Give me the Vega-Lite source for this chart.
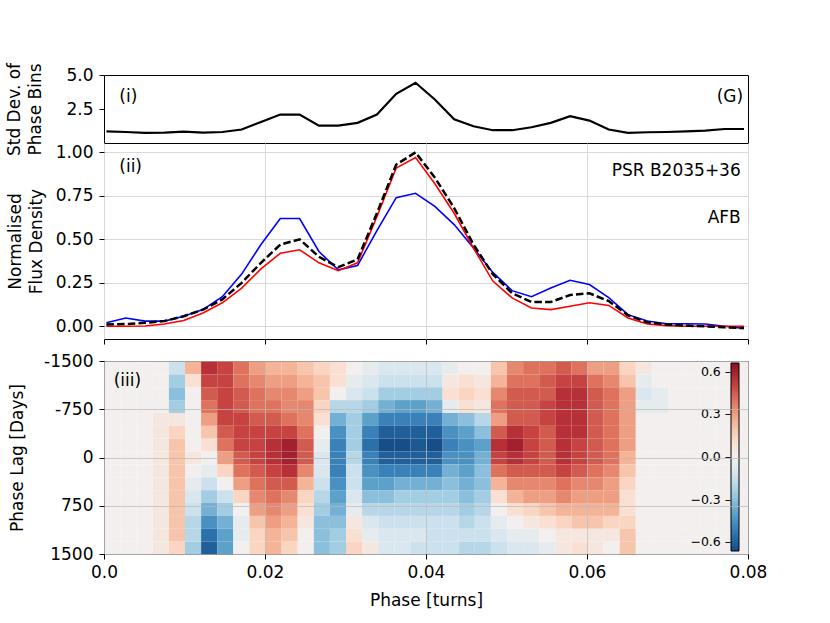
{
  "$schema": "https://vega.github.io/schema/vega-lite/v6.json",
  "background": "white",
  "padding": {"left": 5, "top": 61, "right": 5, "bottom": 5},
  "spacing": 6,
  "resolve": {"scale": {"color": "independent"}, "legend": {"color": "independent"}},
  "config": {
    "font": "DejaVu Sans",
    "view": {"stroke": "black", "strokeWidth": 1},
    "axis": {
      "labelFont": "DejaVu Sans", "titleFont": "DejaVu Sans",
      "labelFontSize": 17, "titleFontSize": 17, "titleFontWeight": "normal",
      "labelColor": "black", "titleColor": "black", "tickColor": "black",
      "domain": false, "tickSize": 5, "labelPadding": 6, "labelFlush": false, "labelOverlap": false,
      "gridColor": "#d9d9d9", "gridWidth": 1
    },
    "legend": {"labelFont": "DejaVu Sans", "labelColor": "black"}
  },
  "datasets": {
    "stdev": [
      {"p": 0.0003, "sd": 0.86}, {"p": 0.0027, "sd": 0.81}, {"p": 0.0051, "sd": 0.74}, {"p": 0.0075, "sd": 0.76},
      {"p": 0.0099, "sd": 0.84}, {"p": 0.0123, "sd": 0.76}, {"p": 0.0147, "sd": 0.81}, {"p": 0.0171, "sd": 0.99},
      {"p": 0.0195, "sd": 1.55}, {"p": 0.0219, "sd": 2.09}, {"p": 0.0243, "sd": 2.09}, {"p": 0.0267, "sd": 1.28},
      {"p": 0.0291, "sd": 1.28}, {"p": 0.0315, "sd": 1.48}, {"p": 0.0339, "sd": 2.09}, {"p": 0.0363, "sd": 3.62},
      {"p": 0.0387, "sd": 4.43}, {"p": 0.0411, "sd": 3.2}, {"p": 0.0435, "sd": 1.75}, {"p": 0.0459, "sd": 1.23},
      {"p": 0.0483, "sd": 0.94}, {"p": 0.0507, "sd": 0.94}, {"p": 0.0531, "sd": 1.16}, {"p": 0.0555, "sd": 1.48},
      {"p": 0.0579, "sd": 1.97}, {"p": 0.0603, "sd": 1.65}, {"p": 0.0627, "sd": 0.99}, {"p": 0.0651, "sd": 0.74},
      {"p": 0.0675, "sd": 0.79}, {"p": 0.0699, "sd": 0.81}, {"p": 0.0723, "sd": 0.86}, {"p": 0.0747, "sd": 0.91},
      {"p": 0.0771, "sd": 1.03}, {"p": 0.0795, "sd": 1.03}
    ],
    "flux": [
      {"p": 0.0003, "s": "blue", "v": 0.02}, {"p": 0.0027, "s": "blue", "v": 0.048}, {"p": 0.0051, "s": "blue", "v": 0.03},
      {"p": 0.0075, "s": "blue", "v": 0.03}, {"p": 0.0099, "s": "blue", "v": 0.058}, {"p": 0.0123, "s": "blue", "v": 0.096},
      {"p": 0.0147, "s": "blue", "v": 0.17}, {"p": 0.0171, "s": "blue", "v": 0.3}, {"p": 0.0195, "s": "blue", "v": 0.47},
      {"p": 0.0219, "s": "blue", "v": 0.62}, {"p": 0.0243, "s": "blue", "v": 0.62}, {"p": 0.0267, "s": "blue", "v": 0.43},
      {"p": 0.0291, "s": "blue", "v": 0.325}, {"p": 0.0315, "s": "blue", "v": 0.35}, {"p": 0.0339, "s": "blue", "v": 0.55},
      {"p": 0.0363, "s": "blue", "v": 0.74}, {"p": 0.0387, "s": "blue", "v": 0.765}, {"p": 0.0411, "s": "blue", "v": 0.69},
      {"p": 0.0435, "s": "blue", "v": 0.585}, {"p": 0.0459, "s": "blue", "v": 0.45}, {"p": 0.0483, "s": "blue", "v": 0.31},
      {"p": 0.0507, "s": "blue", "v": 0.205}, {"p": 0.0531, "s": "blue", "v": 0.17}, {"p": 0.0555, "s": "blue", "v": 0.22},
      {"p": 0.0579, "s": "blue", "v": 0.265}, {"p": 0.0603, "s": "blue", "v": 0.24}, {"p": 0.0627, "s": "blue", "v": 0.165},
      {"p": 0.0651, "s": "blue", "v": 0.067}, {"p": 0.0675, "s": "blue", "v": 0.03}, {"p": 0.0699, "s": "blue", "v": 0.015},
      {"p": 0.0723, "s": "blue", "v": 0.015}, {"p": 0.0747, "s": "blue", "v": 0.013}, {"p": 0.0771, "s": "blue", "v": 0.0},
      {"p": 0.0795, "s": "blue", "v": -0.013},
      {"p": 0.0003, "s": "red", "v": 0.0}, {"p": 0.0027, "s": "red", "v": 0.0}, {"p": 0.0051, "s": "red", "v": 0.002},
      {"p": 0.0075, "s": "red", "v": 0.013}, {"p": 0.0099, "s": "red", "v": 0.033}, {"p": 0.0123, "s": "red", "v": 0.077},
      {"p": 0.0147, "s": "red", "v": 0.135}, {"p": 0.0171, "s": "red", "v": 0.22}, {"p": 0.0195, "s": "red", "v": 0.33},
      {"p": 0.0219, "s": "red", "v": 0.42}, {"p": 0.0243, "s": "red", "v": 0.44}, {"p": 0.0267, "s": "red", "v": 0.365},
      {"p": 0.0291, "s": "red", "v": 0.32}, {"p": 0.0315, "s": "red", "v": 0.365}, {"p": 0.0339, "s": "red", "v": 0.63},
      {"p": 0.0363, "s": "red", "v": 0.91}, {"p": 0.0387, "s": "red", "v": 0.97}, {"p": 0.0411, "s": "red", "v": 0.82},
      {"p": 0.0435, "s": "red", "v": 0.65}, {"p": 0.0459, "s": "red", "v": 0.45}, {"p": 0.0483, "s": "red", "v": 0.26},
      {"p": 0.0507, "s": "red", "v": 0.163}, {"p": 0.0531, "s": "red", "v": 0.105}, {"p": 0.0555, "s": "red", "v": 0.096},
      {"p": 0.0579, "s": "red", "v": 0.115}, {"p": 0.0603, "s": "red", "v": 0.135}, {"p": 0.0627, "s": "red", "v": 0.12},
      {"p": 0.0651, "s": "red", "v": 0.048}, {"p": 0.0675, "s": "red", "v": 0.013}, {"p": 0.0699, "s": "red", "v": 0.004},
      {"p": 0.0723, "s": "red", "v": 0.0}, {"p": 0.0747, "s": "red", "v": 0.0}, {"p": 0.0771, "s": "red", "v": 0.0},
      {"p": 0.0795, "s": "red", "v": 0.0},
      {"p": 0.0003, "s": "mean", "v": 0.01}, {"p": 0.0027, "s": "mean", "v": 0.013}, {"p": 0.0051, "s": "mean", "v": 0.02},
      {"p": 0.0075, "s": "mean", "v": 0.03}, {"p": 0.0099, "s": "mean", "v": 0.058}, {"p": 0.0123, "s": "mean", "v": 0.096},
      {"p": 0.0147, "s": "mean", "v": 0.155}, {"p": 0.0171, "s": "mean", "v": 0.25}, {"p": 0.0195, "s": "mean", "v": 0.365},
      {"p": 0.0219, "s": "mean", "v": 0.47}, {"p": 0.0243, "s": "mean", "v": 0.5}, {"p": 0.0267, "s": "mean", "v": 0.4},
      {"p": 0.0291, "s": "mean", "v": 0.34}, {"p": 0.0315, "s": "mean", "v": 0.385}, {"p": 0.0339, "s": "mean", "v": 0.65},
      {"p": 0.0363, "s": "mean", "v": 0.93}, {"p": 0.0387, "s": "mean", "v": 1.0}, {"p": 0.0411, "s": "mean", "v": 0.855},
      {"p": 0.0435, "s": "mean", "v": 0.68}, {"p": 0.0459, "s": "mean", "v": 0.47}, {"p": 0.0483, "s": "mean", "v": 0.3},
      {"p": 0.0507, "s": "mean", "v": 0.19}, {"p": 0.0531, "s": "mean", "v": 0.14}, {"p": 0.0555, "s": "mean", "v": 0.14},
      {"p": 0.0579, "s": "mean", "v": 0.18}, {"p": 0.0603, "s": "mean", "v": 0.19}, {"p": 0.0627, "s": "mean", "v": 0.145},
      {"p": 0.0651, "s": "mean", "v": 0.063}, {"p": 0.0675, "s": "mean", "v": 0.023}, {"p": 0.0699, "s": "mean", "v": 0.01},
      {"p": 0.0723, "s": "mean", "v": 0.004}, {"p": 0.0747, "s": "mean", "v": 0.0}, {"p": 0.0771, "s": "mean", "v": -0.006},
      {"p": 0.0795, "s": "mean", "v": -0.01}
    ],
    "heat": [
      {"p":0.001,"l":-1400,"c":0},{"p":0.003,"l":-1400,"c":0},{"p":0.005,"l":-1400,"c":0},{"p":0.007,"l":-1400,"c":0},{"p":0.009,"l":-1400,"c":-0.15},{"p":0.011,"l":-1400,"c":0.25},{"p":0.013,"l":-1400,"c":0.55},{"p":0.015,"l":-1400,"c":0.5},{"p":0.017,"l":-1400,"c":0.4},{"p":0.019,"l":-1400,"c":0.3},{"p":0.021,"l":-1400,"c":0.25},{"p":0.023,"l":-1400,"c":0.25},{"p":0.025,"l":-1400,"c":0.2},{"p":0.027,"l":-1400,"c":0.15},{"p":0.029,"l":-1400,"c":0.1},{"p":0.031,"l":-1400,"c":0},{"p":0.033,"l":-1400,"c":-0.05},{"p":0.035,"l":-1400,"c":-0.1},{"p":0.037,"l":-1400,"c":-0.1},{"p":0.039,"l":-1400,"c":-0.1},
      {"p":0.041,"l":-1400,"c":-0.1},{"p":0.043,"l":-1400,"c":-0.05},{"p":0.045,"l":-1400,"c":0},{"p":0.047,"l":-1400,"c":0},{"p":0.049,"l":-1400,"c":0.2},{"p":0.051,"l":-1400,"c":0.35},{"p":0.053,"l":-1400,"c":0.4},{"p":0.055,"l":-1400,"c":0.4},{"p":0.057,"l":-1400,"c":0.45},{"p":0.059,"l":-1400,"c":0.4},{"p":0.061,"l":-1400,"c":0.3},{"p":0.063,"l":-1400,"c":0.3},{"p":0.065,"l":-1400,"c":0.15},{"p":0.067,"l":-1400,"c":0.05},{"p":0.069,"l":-1400,"c":0},{"p":0.071,"l":-1400,"c":0},{"p":0.073,"l":-1400,"c":0},{"p":0.075,"l":-1400,"c":0},{"p":0.077,"l":-1400,"c":0},{"p":0.079,"l":-1400,"c":0},
      {"p":0.001,"l":-1200,"c":0},{"p":0.003,"l":-1200,"c":0},{"p":0.005,"l":-1200,"c":0},{"p":0.007,"l":-1200,"c":0},{"p":0.009,"l":-1200,"c":-0.25},{"p":0.011,"l":-1200,"c":0.1},{"p":0.013,"l":-1200,"c":0.5},{"p":0.015,"l":-1200,"c":0.5},{"p":0.017,"l":-1200,"c":0.4},{"p":0.019,"l":-1200,"c":0.35},{"p":0.021,"l":-1200,"c":0.3},{"p":0.023,"l":-1200,"c":0.3},{"p":0.025,"l":-1200,"c":0.25},{"p":0.027,"l":-1200,"c":0.2},{"p":0.029,"l":-1200,"c":0.1},{"p":0.031,"l":-1200,"c":-0.05},{"p":0.033,"l":-1200,"c":-0.1},{"p":0.035,"l":-1200,"c":-0.15},{"p":0.037,"l":-1200,"c":-0.15},{"p":0.039,"l":-1200,"c":-0.15},
      {"p":0.041,"l":-1200,"c":-0.15},{"p":0.043,"l":-1200,"c":0.05},{"p":0.045,"l":-1200,"c":0.1},{"p":0.047,"l":-1200,"c":0.05},{"p":0.049,"l":-1200,"c":0.25},{"p":0.051,"l":-1200,"c":0.4},{"p":0.053,"l":-1200,"c":0.4},{"p":0.055,"l":-1200,"c":0.45},{"p":0.057,"l":-1200,"c":0.5},{"p":0.059,"l":-1200,"c":0.5},{"p":0.061,"l":-1200,"c":0.4},{"p":0.063,"l":-1200,"c":0.35},{"p":0.065,"l":-1200,"c":0.2},{"p":0.067,"l":-1200,"c":-0.05},{"p":0.069,"l":-1200,"c":0},{"p":0.071,"l":-1200,"c":0},{"p":0.073,"l":-1200,"c":0},{"p":0.075,"l":-1200,"c":0},{"p":0.077,"l":-1200,"c":0},{"p":0.079,"l":-1200,"c":0},
      {"p":0.001,"l":-1000,"c":0},{"p":0.003,"l":-1000,"c":0},{"p":0.005,"l":-1000,"c":0},{"p":0.007,"l":-1000,"c":0},{"p":0.009,"l":-1000,"c":-0.3},{"p":0.011,"l":-1000,"c":0},{"p":0.013,"l":-1000,"c":0.45},{"p":0.015,"l":-1000,"c":0.5},{"p":0.017,"l":-1000,"c":0.45},{"p":0.019,"l":-1000,"c":0.4},{"p":0.021,"l":-1000,"c":0.35},{"p":0.023,"l":-1000,"c":0.35},{"p":0.025,"l":-1000,"c":0.3},{"p":0.027,"l":-1000,"c":0.2},{"p":0.029,"l":-1000,"c":0},{"p":0.031,"l":-1000,"c":-0.1},{"p":0.033,"l":-1000,"c":-0.15},{"p":0.035,"l":-1000,"c":-0.25},{"p":0.037,"l":-1000,"c":-0.25},{"p":0.039,"l":-1000,"c":-0.25},
      {"p":0.041,"l":-1000,"c":-0.25},{"p":0.043,"l":-1000,"c":0.1},{"p":0.045,"l":-1000,"c":0.15},{"p":0.047,"l":-1000,"c":0.1},{"p":0.049,"l":-1000,"c":0.35},{"p":0.051,"l":-1000,"c":0.45},{"p":0.053,"l":-1000,"c":0.45},{"p":0.055,"l":-1000,"c":0.45},{"p":0.057,"l":-1000,"c":0.55},{"p":0.059,"l":-1000,"c":0.55},{"p":0.061,"l":-1000,"c":0.45},{"p":0.063,"l":-1000,"c":0.4},{"p":0.065,"l":-1000,"c":0.3},{"p":0.067,"l":-1000,"c":-0.1},{"p":0.069,"l":-1000,"c":-0.05},{"p":0.071,"l":-1000,"c":0},{"p":0.073,"l":-1000,"c":0},{"p":0.075,"l":-1000,"c":0},{"p":0.077,"l":-1000,"c":0},{"p":0.079,"l":-1000,"c":0},
      {"p":0.001,"l":-800,"c":0},{"p":0.003,"l":-800,"c":0},{"p":0.005,"l":-800,"c":0},{"p":0.007,"l":-800,"c":0},{"p":0.009,"l":-800,"c":-0.25},{"p":0.011,"l":-800,"c":0},{"p":0.013,"l":-800,"c":0.4},{"p":0.015,"l":-800,"c":0.5},{"p":0.017,"l":-800,"c":0.45},{"p":0.019,"l":-800,"c":0.4},{"p":0.021,"l":-800,"c":0.4},{"p":0.023,"l":-800,"c":0.35},{"p":0.025,"l":-800,"c":0.35},{"p":0.027,"l":-800,"c":0.15},{"p":0.029,"l":-800,"c":-0.2},{"p":0.031,"l":-800,"c":-0.2},{"p":0.033,"l":-800,"c":-0.25},{"p":0.035,"l":-800,"c":-0.35},{"p":0.037,"l":-800,"c":-0.4},{"p":0.039,"l":-800,"c":-0.4},
      {"p":0.041,"l":-800,"c":-0.35},{"p":0.043,"l":-800,"c":-0.05},{"p":0.045,"l":-800,"c":0.1},{"p":0.047,"l":-800,"c":0.05},{"p":0.049,"l":-800,"c":0.4},{"p":0.051,"l":-800,"c":0.45},{"p":0.053,"l":-800,"c":0.45},{"p":0.055,"l":-800,"c":0.5},{"p":0.057,"l":-800,"c":0.55},{"p":0.059,"l":-800,"c":0.55},{"p":0.061,"l":-800,"c":0.45},{"p":0.063,"l":-800,"c":0.4},{"p":0.065,"l":-800,"c":0.3},{"p":0.067,"l":-800,"c":-0.05},{"p":0.069,"l":-800,"c":-0.05},{"p":0.071,"l":-800,"c":0},{"p":0.073,"l":-800,"c":0},{"p":0.075,"l":-800,"c":0},{"p":0.077,"l":-800,"c":0},{"p":0.079,"l":-800,"c":0},
      {"p":0.001,"l":-600,"c":0},{"p":0.003,"l":-600,"c":0},{"p":0.005,"l":-600,"c":0},{"p":0.007,"l":-600,"c":0.05},{"p":0.009,"l":-600,"c":0.05},{"p":0.011,"l":-600,"c":0},{"p":0.013,"l":-600,"c":0.3},{"p":0.015,"l":-600,"c":0.5},{"p":0.017,"l":-600,"c":0.5},{"p":0.019,"l":-600,"c":0.45},{"p":0.021,"l":-600,"c":0.45},{"p":0.023,"l":-600,"c":0.4},{"p":0.025,"l":-600,"c":0.35},{"p":0.027,"l":-600,"c":0.1},{"p":0.029,"l":-600,"c":-0.35},{"p":0.031,"l":-600,"c":-0.25},{"p":0.033,"l":-600,"c":-0.4},{"p":0.035,"l":-600,"c":-0.5},{"p":0.037,"l":-600,"c":-0.5},{"p":0.039,"l":-600,"c":-0.5},
      {"p":0.041,"l":-600,"c":-0.5},{"p":0.043,"l":-600,"c":-0.35},{"p":0.045,"l":-600,"c":-0.3},{"p":0.047,"l":-600,"c":-0.2},{"p":0.049,"l":-600,"c":0.3},{"p":0.051,"l":-600,"c":0.45},{"p":0.053,"l":-600,"c":0.45},{"p":0.055,"l":-600,"c":0.5},{"p":0.057,"l":-600,"c":0.55},{"p":0.059,"l":-600,"c":0.55},{"p":0.061,"l":-600,"c":0.45},{"p":0.063,"l":-600,"c":0.4},{"p":0.065,"l":-600,"c":0.3},{"p":0.067,"l":-600,"c":0},{"p":0.069,"l":-600,"c":0},{"p":0.071,"l":-600,"c":0},{"p":0.073,"l":-600,"c":0},{"p":0.075,"l":-600,"c":0},{"p":0.077,"l":-600,"c":0},{"p":0.079,"l":-600,"c":0},
      {"p":0.001,"l":-400,"c":0},{"p":0.003,"l":-400,"c":0},{"p":0.005,"l":-400,"c":0},{"p":0.007,"l":-400,"c":0.05},{"p":0.009,"l":-400,"c":0.15},{"p":0.011,"l":-400,"c":0},{"p":0.013,"l":-400,"c":0.2},{"p":0.015,"l":-400,"c":0.45},{"p":0.017,"l":-400,"c":0.5},{"p":0.019,"l":-400,"c":0.5},{"p":0.021,"l":-400,"c":0.5},{"p":0.023,"l":-400,"c":0.5},{"p":0.025,"l":-400,"c":0.4},{"p":0.027,"l":-400,"c":0},{"p":0.029,"l":-400,"c":-0.45},{"p":0.031,"l":-400,"c":-0.25},{"p":0.033,"l":-400,"c":-0.5},{"p":0.035,"l":-400,"c":-0.6},{"p":0.037,"l":-400,"c":-0.6},{"p":0.039,"l":-400,"c":-0.6},
      {"p":0.041,"l":-400,"c":-0.6},{"p":0.043,"l":-400,"c":-0.45},{"p":0.045,"l":-400,"c":-0.4},{"p":0.047,"l":-400,"c":-0.3},{"p":0.049,"l":-400,"c":0.45},{"p":0.051,"l":-400,"c":0.55},{"p":0.053,"l":-400,"c":0.5},{"p":0.055,"l":-400,"c":0.45},{"p":0.057,"l":-400,"c":0.55},{"p":0.059,"l":-400,"c":0.55},{"p":0.061,"l":-400,"c":0.45},{"p":0.063,"l":-400,"c":0.4},{"p":0.065,"l":-400,"c":0.3},{"p":0.067,"l":-400,"c":0},{"p":0.069,"l":-400,"c":0},{"p":0.071,"l":-400,"c":0},{"p":0.073,"l":-400,"c":0},{"p":0.075,"l":-400,"c":0},{"p":0.077,"l":-400,"c":0},{"p":0.079,"l":-400,"c":0},
      {"p":0.001,"l":-200,"c":0},{"p":0.003,"l":-200,"c":0},{"p":0.005,"l":-200,"c":0},{"p":0.007,"l":-200,"c":0.05},{"p":0.009,"l":-200,"c":0.2},{"p":0.011,"l":-200,"c":0},{"p":0.013,"l":-200,"c":0.1},{"p":0.015,"l":-200,"c":0.4},{"p":0.017,"l":-200,"c":0.5},{"p":0.019,"l":-200,"c":0.5},{"p":0.021,"l":-200,"c":0.55},{"p":0.023,"l":-200,"c":0.6},{"p":0.025,"l":-200,"c":0.45},{"p":0.027,"l":-200,"c":-0.05},{"p":0.029,"l":-200,"c":-0.5},{"p":0.031,"l":-200,"c":-0.25},{"p":0.033,"l":-200,"c":-0.55},{"p":0.035,"l":-200,"c":-0.65},{"p":0.037,"l":-200,"c":-0.65},{"p":0.039,"l":-200,"c":-0.62},
      {"p":0.041,"l":-200,"c":-0.65},{"p":0.043,"l":-200,"c":-0.5},{"p":0.045,"l":-200,"c":-0.45},{"p":0.047,"l":-200,"c":-0.4},{"p":0.049,"l":-200,"c":0.55},{"p":0.051,"l":-200,"c":0.6},{"p":0.053,"l":-200,"c":0.5},{"p":0.055,"l":-200,"c":0.45},{"p":0.057,"l":-200,"c":0.55},{"p":0.059,"l":-200,"c":0.5},{"p":0.061,"l":-200,"c":0.45},{"p":0.063,"l":-200,"c":0.4},{"p":0.065,"l":-200,"c":0.3},{"p":0.067,"l":-200,"c":0},{"p":0.069,"l":-200,"c":0},{"p":0.071,"l":-200,"c":0},{"p":0.073,"l":-200,"c":0},{"p":0.075,"l":-200,"c":0},{"p":0.077,"l":-200,"c":0},{"p":0.079,"l":-200,"c":0},
      {"p":0.001,"l":0,"c":0},{"p":0.003,"l":0,"c":0},{"p":0.005,"l":0,"c":0},{"p":0.007,"l":0,"c":0.05},{"p":0.009,"l":0,"c":0.2},{"p":0.011,"l":0,"c":0.05},{"p":0.013,"l":0,"c":0},{"p":0.015,"l":0,"c":0.3},{"p":0.017,"l":0,"c":0.45},{"p":0.019,"l":0,"c":0.5},{"p":0.021,"l":0,"c":0.55},{"p":0.023,"l":0,"c":0.6},{"p":0.025,"l":0,"c":0.45},{"p":0.027,"l":0,"c":-0.1},{"p":0.029,"l":0,"c":-0.5},{"p":0.031,"l":0,"c":-0.2},{"p":0.033,"l":0,"c":-0.5},{"p":0.035,"l":0,"c":-0.6},{"p":0.037,"l":0,"c":-0.6},{"p":0.039,"l":0,"c":-0.6},
      {"p":0.041,"l":0,"c":-0.6},{"p":0.043,"l":0,"c":-0.45},{"p":0.045,"l":0,"c":-0.45},{"p":0.047,"l":0,"c":-0.35},{"p":0.049,"l":0,"c":0.5},{"p":0.051,"l":0,"c":0.55},{"p":0.053,"l":0,"c":0.5},{"p":0.055,"l":0,"c":0.45},{"p":0.057,"l":0,"c":0.55},{"p":0.059,"l":0,"c":0.5},{"p":0.061,"l":0,"c":0.45},{"p":0.063,"l":0,"c":0.4},{"p":0.065,"l":0,"c":0.25},{"p":0.067,"l":0,"c":0},{"p":0.069,"l":0,"c":0},{"p":0.071,"l":0,"c":0},{"p":0.073,"l":0,"c":0},{"p":0.075,"l":0,"c":0},{"p":0.077,"l":0,"c":0},{"p":0.079,"l":0,"c":0},
      {"p":0.001,"l":200,"c":0},{"p":0.003,"l":200,"c":0},{"p":0.005,"l":200,"c":0},{"p":0.007,"l":200,"c":0.05},{"p":0.009,"l":200,"c":0.2},{"p":0.011,"l":200,"c":0},{"p":0.013,"l":200,"c":-0.05},{"p":0.015,"l":200,"c":0.15},{"p":0.017,"l":200,"c":0.4},{"p":0.019,"l":200,"c":0.45},{"p":0.021,"l":200,"c":0.5},{"p":0.023,"l":200,"c":0.55},{"p":0.025,"l":200,"c":0.35},{"p":0.027,"l":200,"c":-0.1},{"p":0.029,"l":200,"c":-0.5},{"p":0.031,"l":200,"c":-0.15},{"p":0.033,"l":200,"c":-0.45},{"p":0.035,"l":200,"c":-0.5},{"p":0.037,"l":200,"c":-0.5},{"p":0.039,"l":200,"c":-0.5},
      {"p":0.041,"l":200,"c":-0.5},{"p":0.043,"l":200,"c":-0.35},{"p":0.045,"l":200,"c":-0.4},{"p":0.047,"l":200,"c":-0.3},{"p":0.049,"l":200,"c":0.4},{"p":0.051,"l":200,"c":0.45},{"p":0.053,"l":200,"c":0.45},{"p":0.055,"l":200,"c":0.45},{"p":0.057,"l":200,"c":0.5},{"p":0.059,"l":200,"c":0.45},{"p":0.061,"l":200,"c":0.4},{"p":0.063,"l":200,"c":0.35},{"p":0.065,"l":200,"c":0.2},{"p":0.067,"l":200,"c":0},{"p":0.069,"l":200,"c":0},{"p":0.071,"l":200,"c":0},{"p":0.073,"l":200,"c":0},{"p":0.075,"l":200,"c":0},{"p":0.077,"l":200,"c":0},{"p":0.079,"l":200,"c":0},
      {"p":0.001,"l":400,"c":0},{"p":0.003,"l":400,"c":0},{"p":0.005,"l":400,"c":0},{"p":0.007,"l":400,"c":0.05},{"p":0.009,"l":400,"c":0.2},{"p":0.011,"l":400,"c":-0.05},{"p":0.013,"l":400,"c":-0.15},{"p":0.015,"l":400,"c":0},{"p":0.017,"l":400,"c":0.3},{"p":0.019,"l":400,"c":0.4},{"p":0.021,"l":400,"c":0.45},{"p":0.023,"l":400,"c":0.45},{"p":0.025,"l":400,"c":0.25},{"p":0.027,"l":400,"c":-0.15},{"p":0.029,"l":400,"c":-0.45},{"p":0.031,"l":400,"c":-0.15},{"p":0.033,"l":400,"c":-0.4},{"p":0.035,"l":400,"c":-0.4},{"p":0.037,"l":400,"c":-0.35},{"p":0.039,"l":400,"c":-0.35},
      {"p":0.041,"l":400,"c":-0.35},{"p":0.043,"l":400,"c":-0.3},{"p":0.045,"l":400,"c":-0.35},{"p":0.047,"l":400,"c":-0.3},{"p":0.049,"l":400,"c":0.25},{"p":0.051,"l":400,"c":0.35},{"p":0.053,"l":400,"c":0.35},{"p":0.055,"l":400,"c":0.35},{"p":0.057,"l":400,"c":0.4},{"p":0.059,"l":400,"c":0.35},{"p":0.061,"l":400,"c":0.35},{"p":0.063,"l":400,"c":0.3},{"p":0.065,"l":400,"c":0.15},{"p":0.067,"l":400,"c":0},{"p":0.069,"l":400,"c":0},{"p":0.071,"l":400,"c":0},{"p":0.073,"l":400,"c":0},{"p":0.075,"l":400,"c":0},{"p":0.077,"l":400,"c":0},{"p":0.079,"l":400,"c":0},
      {"p":0.001,"l":600,"c":0},{"p":0.003,"l":600,"c":0},{"p":0.005,"l":600,"c":0},{"p":0.007,"l":600,"c":0.05},{"p":0.009,"l":600,"c":0.2},{"p":0.011,"l":600,"c":-0.1},{"p":0.013,"l":600,"c":-0.25},{"p":0.015,"l":600,"c":-0.15},{"p":0.017,"l":600,"c":0.15},{"p":0.019,"l":600,"c":0.35},{"p":0.021,"l":600,"c":0.4},{"p":0.023,"l":600,"c":0.35},{"p":0.025,"l":600,"c":0.15},{"p":0.027,"l":600,"c":-0.2},{"p":0.029,"l":600,"c":-0.4},{"p":0.031,"l":600,"c":-0.1},{"p":0.033,"l":600,"c":-0.3},{"p":0.035,"l":600,"c":-0.3},{"p":0.037,"l":600,"c":-0.25},{"p":0.039,"l":600,"c":-0.25},
      {"p":0.041,"l":600,"c":-0.25},{"p":0.043,"l":600,"c":-0.25},{"p":0.045,"l":600,"c":-0.3},{"p":0.047,"l":600,"c":-0.25},{"p":0.049,"l":600,"c":0.1},{"p":0.051,"l":600,"c":0.25},{"p":0.053,"l":600,"c":0.3},{"p":0.055,"l":600,"c":0.3},{"p":0.057,"l":600,"c":0.35},{"p":0.059,"l":600,"c":0.3},{"p":0.061,"l":600,"c":0.3},{"p":0.063,"l":600,"c":0.3},{"p":0.065,"l":600,"c":0.1},{"p":0.067,"l":600,"c":0},{"p":0.069,"l":600,"c":0},{"p":0.071,"l":600,"c":0},{"p":0.073,"l":600,"c":0},{"p":0.075,"l":600,"c":0},{"p":0.077,"l":600,"c":0},{"p":0.079,"l":600,"c":0},
      {"p":0.001,"l":800,"c":0},{"p":0.003,"l":800,"c":0},{"p":0.005,"l":800,"c":0},{"p":0.007,"l":800,"c":0.05},{"p":0.009,"l":800,"c":0.2},{"p":0.011,"l":800,"c":-0.15},{"p":0.013,"l":800,"c":-0.35},{"p":0.015,"l":800,"c":-0.25},{"p":0.017,"l":800,"c":0},{"p":0.019,"l":800,"c":0.3},{"p":0.021,"l":800,"c":0.35},{"p":0.023,"l":800,"c":0.3},{"p":0.025,"l":800,"c":0.1},{"p":0.027,"l":800,"c":-0.25},{"p":0.029,"l":800,"c":-0.35},{"p":0.031,"l":800,"c":-0.05},{"p":0.033,"l":800,"c":-0.2},{"p":0.035,"l":800,"c":-0.2},{"p":0.037,"l":800,"c":-0.2},{"p":0.039,"l":800,"c":-0.2},
      {"p":0.041,"l":800,"c":-0.2},{"p":0.043,"l":800,"c":-0.2},{"p":0.045,"l":800,"c":-0.25},{"p":0.047,"l":800,"c":-0.2},{"p":0.049,"l":800,"c":0},{"p":0.051,"l":800,"c":0.1},{"p":0.053,"l":800,"c":0.15},{"p":0.055,"l":800,"c":0.2},{"p":0.057,"l":800,"c":0.25},{"p":0.059,"l":800,"c":0.25},{"p":0.061,"l":800,"c":0.25},{"p":0.063,"l":800,"c":0.25},{"p":0.065,"l":800,"c":0.1},{"p":0.067,"l":800,"c":0},{"p":0.069,"l":800,"c":0},{"p":0.071,"l":800,"c":0},{"p":0.073,"l":800,"c":0},{"p":0.075,"l":800,"c":0},{"p":0.077,"l":800,"c":0},{"p":0.079,"l":800,"c":0},
      {"p":0.001,"l":1000,"c":0},{"p":0.003,"l":1000,"c":0},{"p":0.005,"l":1000,"c":0},{"p":0.007,"l":1000,"c":0.05},{"p":0.009,"l":1000,"c":0.2},{"p":0.011,"l":1000,"c":-0.2},{"p":0.013,"l":1000,"c":-0.45},{"p":0.015,"l":1000,"c":-0.35},{"p":0.017,"l":1000,"c":-0.05},{"p":0.019,"l":1000,"c":0.2},{"p":0.021,"l":1000,"c":0.3},{"p":0.023,"l":1000,"c":0.25},{"p":0.025,"l":1000,"c":0.05},{"p":0.027,"l":1000,"c":-0.3},{"p":0.029,"l":1000,"c":-0.3},{"p":0.031,"l":1000,"c":0.05},{"p":0.033,"l":1000,"c":-0.1},{"p":0.035,"l":1000,"c":-0.15},{"p":0.037,"l":1000,"c":-0.15},{"p":0.039,"l":1000,"c":-0.15},
      {"p":0.041,"l":1000,"c":-0.15},{"p":0.043,"l":1000,"c":-0.15},{"p":0.045,"l":1000,"c":-0.2},{"p":0.047,"l":1000,"c":-0.15},{"p":0.049,"l":1000,"c":-0.05},{"p":0.051,"l":1000,"c":0},{"p":0.053,"l":1000,"c":0.05},{"p":0.055,"l":1000,"c":0.1},{"p":0.057,"l":1000,"c":0.15},{"p":0.059,"l":1000,"c":0.2},{"p":0.061,"l":1000,"c":0.2},{"p":0.063,"l":1000,"c":0.15},{"p":0.065,"l":1000,"c":0.15},{"p":0.067,"l":1000,"c":0},{"p":0.069,"l":1000,"c":0},{"p":0.071,"l":1000,"c":0},{"p":0.073,"l":1000,"c":0},{"p":0.075,"l":1000,"c":0},{"p":0.077,"l":1000,"c":0},{"p":0.079,"l":1000,"c":0},
      {"p":0.001,"l":1200,"c":0},{"p":0.003,"l":1200,"c":0},{"p":0.005,"l":1200,"c":0},{"p":0.007,"l":1200,"c":0.05},{"p":0.009,"l":1200,"c":0.2},{"p":0.011,"l":1200,"c":-0.2},{"p":0.013,"l":1200,"c":-0.55},{"p":0.015,"l":1200,"c":-0.4},{"p":0.017,"l":1200,"c":-0.05},{"p":0.019,"l":1200,"c":0.15},{"p":0.021,"l":1200,"c":0.25},{"p":0.023,"l":1200,"c":0.2},{"p":0.025,"l":1200,"c":0},{"p":0.027,"l":1200,"c":-0.3},{"p":0.029,"l":1200,"c":-0.25},{"p":0.031,"l":1200,"c":0.1},{"p":0.033,"l":1200,"c":-0.05},{"p":0.035,"l":1200,"c":-0.1},{"p":0.037,"l":1200,"c":-0.1},{"p":0.039,"l":1200,"c":-0.1},
      {"p":0.041,"l":1200,"c":-0.15},{"p":0.043,"l":1200,"c":-0.15},{"p":0.045,"l":1200,"c":-0.15},{"p":0.047,"l":1200,"c":-0.15},{"p":0.049,"l":1200,"c":-0.1},{"p":0.051,"l":1200,"c":-0.05},{"p":0.053,"l":1200,"c":-0.05},{"p":0.055,"l":1200,"c":0},{"p":0.057,"l":1200,"c":0.05},{"p":0.059,"l":1200,"c":0.05},{"p":0.061,"l":1200,"c":0.05},{"p":0.063,"l":1200,"c":0.05},{"p":0.065,"l":1200,"c":0.2},{"p":0.067,"l":1200,"c":0},{"p":0.069,"l":1200,"c":0},{"p":0.071,"l":1200,"c":0},{"p":0.073,"l":1200,"c":0},{"p":0.075,"l":1200,"c":0},{"p":0.077,"l":1200,"c":0},{"p":0.079,"l":1200,"c":0},
      {"p":0.001,"l":1400,"c":0},{"p":0.003,"l":1400,"c":0},{"p":0.005,"l":1400,"c":0},{"p":0.007,"l":1400,"c":0.05},{"p":0.009,"l":1400,"c":0.15},{"p":0.011,"l":1400,"c":-0.25},{"p":0.013,"l":1400,"c":-0.6},{"p":0.015,"l":1400,"c":-0.4},{"p":0.017,"l":1400,"c":0},{"p":0.019,"l":1400,"c":0.15},{"p":0.021,"l":1400,"c":0.25},{"p":0.023,"l":1400,"c":0.15},{"p":0.025,"l":1400,"c":0},{"p":0.027,"l":1400,"c":-0.3},{"p":0.029,"l":1400,"c":-0.25},{"p":0.031,"l":1400,"c":0.15},{"p":0.033,"l":1400,"c":0.05},{"p":0.035,"l":1400,"c":-0.1},{"p":0.037,"l":1400,"c":-0.1},{"p":0.039,"l":1400,"c":-0.15},
      {"p":0.041,"l":1400,"c":-0.15},{"p":0.043,"l":1400,"c":-0.15},{"p":0.045,"l":1400,"c":-0.2},{"p":0.047,"l":1400,"c":-0.2},{"p":0.049,"l":1400,"c":-0.15},{"p":0.051,"l":1400,"c":-0.1},{"p":0.053,"l":1400,"c":-0.1},{"p":0.055,"l":1400,"c":-0.05},{"p":0.057,"l":1400,"c":0.05},{"p":0.059,"l":1400,"c":0.1},{"p":0.061,"l":1400,"c":0.05},{"p":0.063,"l":1400,"c":0},{"p":0.065,"l":1400,"c":0.2},{"p":0.067,"l":1400,"c":0},{"p":0.069,"l":1400,"c":0},{"p":0.071,"l":1400,"c":0},{"p":0.073,"l":1400,"c":0},{"p":0.075,"l":1400,"c":0},{"p":0.077,"l":1400,"c":0},{"p":0.079,"l":1400,"c":0}
    ]
  },
  "vconcat": [
    {
      "bounds": "flush",
      "spacing": 0,
      "vconcat": [
        {
          "width": 644,
          "height": 68,
          "layer": [
            {
              "data": {"name": "stdev"},
              "mark": {"type": "line", "color": "black", "strokeWidth": 2.2, "clip": true},
              "encoding": {
                "x": {
                  "field": "p", "type": "quantitative",
                  "scale": {"domain": [0, 0.08], "nice": false},
                  "axis": {"values": [0, 0.02, 0.04, 0.06, 0.08], "labels": false, "grid": false, "title": null}
                },
                "y": {
                  "field": "sd", "type": "quantitative",
                  "scale": {"domain": [0, 5], "nice": false},
                  "axis": {"values": [2.5, 5], "format": ".1f", "grid": false,
                           "title": ["Std Dev. of", "Phase Bins"], "titlePadding": 21, "titleLineHeight": 21}
                }
              }
            },
            {
              "data": {"values": [{"t": "(i)"}]},
              "mark": {"type": "text", "align": "left", "baseline": "middle", "fontSize": 17, "font": "DejaVu Sans", "color": "black"},
              "encoding": {"x": {"datum": 0.0019}, "y": {"datum": 3.4}, "text": {"field": "t"}}
            },
            {
              "data": {"values": [{"t": "(G)"}]},
              "mark": {"type": "text", "align": "right", "baseline": "middle", "fontSize": 17, "font": "DejaVu Sans", "color": "black"},
              "encoding": {"x": {"datum": 0.0794}, "y": {"datum": 3.4}, "text": {"field": "t"}}
            }
          ]
        },
        {
          "width": 644,
          "height": 196,
          "layer": [
            {
              "data": {"name": "flux"},
              "transform": [{"filter": "datum.s === 'blue'"}],
              "mark": {"type": "line", "color": "#0000ff", "strokeWidth": 1.6, "clip": true},
              "encoding": {
                "x": {
                  "field": "p", "type": "quantitative",
                  "scale": {"domain": [0, 0.08], "nice": false},
                  "axis": {"values": [0, 0.02, 0.04, 0.06, 0.08], "labels": false, "grid": true, "title": null}
                },
                "y": {
                  "field": "v", "type": "quantitative",
                  "scale": {"domain": [-0.073, 1.054], "nice": false, "zero": false},
                  "axis": {"values": [0, 0.25, 0.5, 0.75, 1], "format": ".2f", "grid": true,
                           "title": ["Normalised", "Flux Density"], "titlePadding": 10, "titleLineHeight": 21}
                }
              }
            },
            {
              "data": {"name": "flux"},
              "transform": [{"filter": "datum.s === 'red'"}],
              "mark": {"type": "line", "color": "#ff0000", "strokeWidth": 1.6, "clip": true},
              "encoding": {
                "x": {"field": "p", "type": "quantitative"},
                "y": {"field": "v", "type": "quantitative"}
              }
            },
            {
              "data": {"name": "flux"},
              "transform": [{"filter": "datum.s === 'mean'"}],
              "mark": {"type": "line", "color": "black", "strokeWidth": 2.5, "strokeDash": [7.5, 3.2], "clip": true},
              "encoding": {
                "x": {"field": "p", "type": "quantitative"},
                "y": {"field": "v", "type": "quantitative"}
              }
            },
            {
              "data": {"values": [{"t": "(ii)"}]},
              "mark": {"type": "text", "align": "left", "baseline": "middle", "fontSize": 17, "font": "DejaVu Sans", "color": "black"},
              "encoding": {"x": {"datum": 0.0019}, "y": {"datum": 0.917}, "text": {"field": "t"}}
            },
            {
              "data": {"values": [{"t": "PSR B2035+36"}]},
              "mark": {"type": "text", "align": "right", "baseline": "middle", "fontSize": 17, "font": "DejaVu Sans", "color": "black"},
              "encoding": {"x": {"datum": 0.0791}, "y": {"datum": 0.894}, "text": {"field": "t"}}
            },
            {
              "data": {"values": [{"t": "AFB"}]},
              "mark": {"type": "text", "align": "right", "baseline": "middle", "fontSize": 17, "font": "DejaVu Sans", "color": "black"},
              "encoding": {"x": {"datum": 0.0791}, "y": {"datum": 0.623}, "text": {"field": "t"}}
            }
          ]
        }
      ]
    },
    {
      "width": 644,
      "height": 193,
      "layer": [
        {
          "data": {"name": "heat"},
          "mark": {"type": "rect", "strokeWidth": 0},
          "encoding": {
            "x": {
              "field": "p", "type": "quantitative",
              "bin": {"extent": [0, 0.08], "step": 0.002, "nice": false},
              "scale": {"domain": [0, 0.08], "nice": false},
              "axis": {"values": [0, 0.02, 0.04, 0.06, 0.08],
                       "labelExpr": "datum.value == 0 ? '0.0' : format(datum.value, '.2f')",
                       "grid": true, "gridColor": "#b8b8b8", "gridOpacity": 0.7, "zindex": 1,
                       "labelPadding": 5, "title": "Phase [turns]", "titlePadding": 12}
            },
            "y": {
              "field": "l", "type": "quantitative",
              "bin": {"extent": [-1500, 1500], "step": 200, "nice": false},
              "scale": {"domain": [-1500, 1500], "nice": false, "reverse": true},
              "axis": {"values": [-1500, -750, 0, 750, 1500], "labelExpr": "'' + datum.value",
                       "grid": true, "gridColor": "#b8b8b8", "gridOpacity": 0.7, "zindex": 1,
                       "title": "Phase Lag [Days]", "titlePadding": 17}
            },
            "color": {
              "field": "c", "type": "quantitative", "aggregate": "mean",
              "scale": {"scheme": "redblue", "reverse": true, "domain": [-0.66, 0.66]},
              "legend": {
                "orient": "none", "legendX": 627, "legendY": 2, "direction": "vertical", "title": null,
                "gradientLength": 188, "gradientThickness": 8,
                "gradientStrokeColor": "black", "gradientStrokeWidth": 1,
                "values": [-0.6, -0.3, 0, 0.3, 0.6],
                "labelExpr": "format(datum.value, '.1f') + ' –'",
                "labelFontSize": 12.5, "labelOffset": -8,
                "encode": {"labels": {"update": {"align": {"value": "right"}}}}
              }
            }
          }
        },
        {
          "data": {"values": [{"t": "(iii)"}]},
          "mark": {"type": "text", "align": "left", "baseline": "middle", "fontSize": 17, "font": "DejaVu Sans", "color": "black"},
          "encoding": {"x": {"datum": 0.0012}, "y": {"datum": -1190}, "text": {"field": "t"}}
        }
      ]
    }
  ]
}
